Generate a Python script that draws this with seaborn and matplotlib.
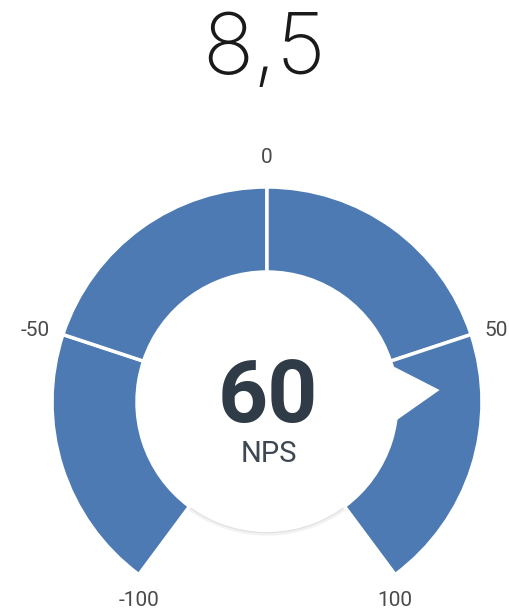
import numpy as np
import seaborn as sns
from matplotlib import pyplot as plt

# gauge data
score_title = "8,5"
nps_value = 60
nps_label = "NPS"
band_edges = [-100, -50, 0, 50, 100]
tick_values = [-100, -50, 0, 50, 100]

sns.set_theme(style="white")
plt.rcParams['font.family'] = ['Roboto', 'DejaVu Sans']

SWEEP = 143.4          # degrees from top to the +/-100 ends
R_IN, R_OUT = 130, 215  # pixel radii
BLUE = "#4d7ab3"


def theta(v):
    return np.deg2rad(v * SWEEP / 100)


fig = plt.figure(figsize=(5.1, 6.13), dpi=100)
cx, cy, half = 267, 402, 240
ax = fig.add_axes([(cx - half) / 510, (613 - cy - half) / 613,
                   2 * half / 510, 2 * half / 613], projection='polar')
ax.set_theta_zero_location('N')
ax.set_theta_direction(-1)
ax.set_rlim(0, half)
ax.set_axis_off()

# soft shadow ring + white centre disc
ring = np.linspace(0, 2 * np.pi, 721)
ax.plot(ring, np.full_like(ring, R_IN + 1.5), color='#f2f2f2', lw=3, zorder=1)
ax.plot(ring, np.full_like(ring, R_IN + 0.5), color='#e3e3e3', lw=1.2, zorder=1)
ax.bar(x=np.pi, height=R_IN, width=2 * np.pi, bottom=0, color='white',
       linewidth=0, zorder=1)

# coloured bands
for lo, hi in zip(band_edges[:-1], band_edges[1:]):
    ax.bar(x=theta(lo), height=R_OUT - R_IN, width=theta(hi) - theta(lo),
           bottom=R_IN, align='edge', color=BLUE, edgecolor='white',
           linewidth=2.5, zorder=2)

# pointer
t = theta(nps_value)
half_w = np.deg2rad(15)
ax.fill([t - half_w, t, t + half_w], [124, 173, 124], color='white',
        linewidth=0, zorder=3)

# tick labels
for v in tick_values:
    th = theta(v)
    s, c = np.sin(th), np.cos(th)
    if c < -0.7:
        off, ha, va = (0, -16), 'center', 'top'
    elif abs(s) > 0.7:
        off, ha, va = (14 * s, 14 * c), ('left' if s > 0 else 'right'), 'center'
    else:
        off, ha, va = (0, 20), 'center', 'bottom'
    ax.annotate(str(v), xy=(th, R_OUT), xytext=off, textcoords='offset pixels',
                ha=ha, va=va, fontsize=15, color='#4a4a4a', zorder=5)

# centre value
ax.annotate(str(nps_value), xy=(0, 0), xytext=(1, -20), textcoords='offset pixels',
            ha='center', va='baseline', fontsize=63, fontweight='bold',
            color='#2f3c48', zorder=5)
ax.annotate(nps_label, xy=(0, 0), xytext=(2, -60), textcoords='offset pixels',
            ha='center', va='baseline', fontsize=21, color='#3d4852', zorder=5)

fig.text(264 / 510, 1 - 74 / 613, score_title, ha='center', va='baseline',
         fontsize=61, fontweight='light', family=['Inter', 'DejaVu Sans'],
         color='#1a1a1a')

fig.savefig("out.png", dpi=100)
